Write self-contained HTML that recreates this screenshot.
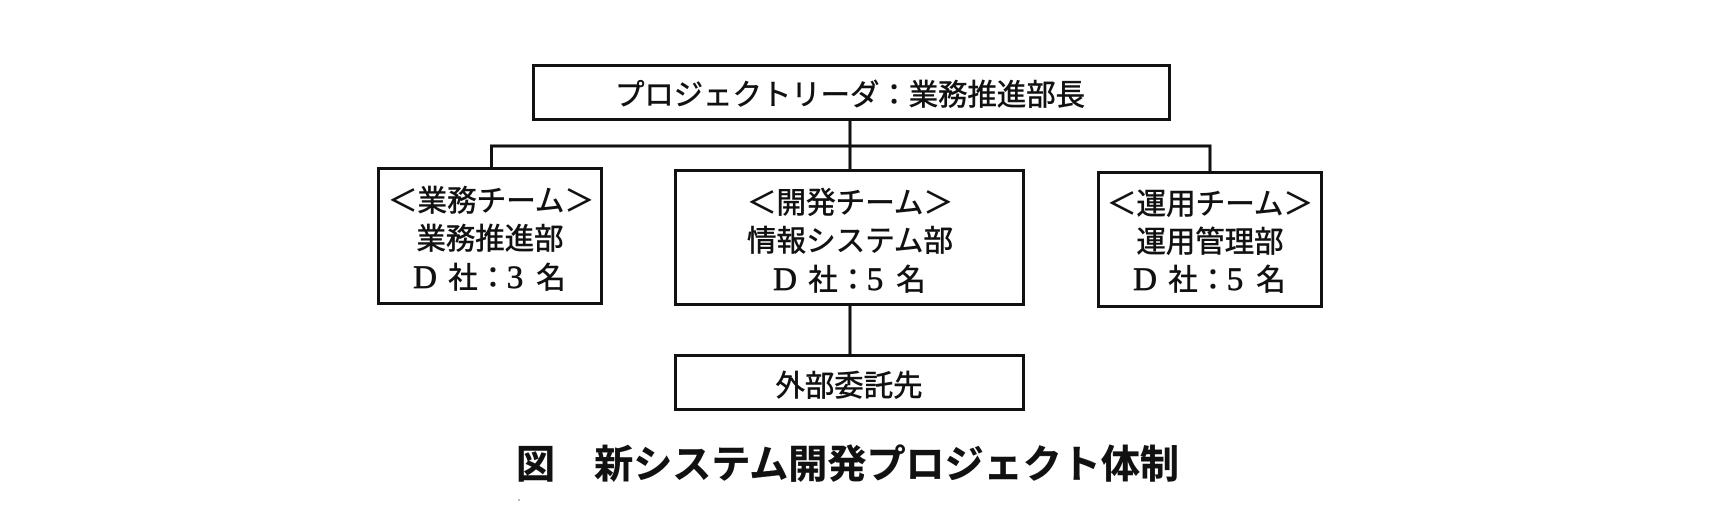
<!DOCTYPE html>
<html>
<head>
<meta charset="utf-8">
<style>
  html, body { margin: 0; padding: 0; background: #fff; }
  body { width: 1710px; height: 526px; overflow: hidden; }
  svg { display: block; }
  .t { font-family: "Liberation Sans", "Noto Sans CJK JP", sans-serif; font-size: 29.4px; fill: #111; stroke: #111; stroke-width: 0.6px; }
  .s { font-family: "Liberation Serif", "Noto Serif CJK SC", serif; font-size: 33px; fill: #111; stroke: #111; stroke-width: 0.7px; }
  .cap { font-family: "Liberation Sans", "Noto Sans CJK JP", sans-serif; font-size: 39px; font-weight: bold; fill: #111; stroke: #111; stroke-width: 0.4px; }
</style>
</head>
<body>
<svg width="1710" height="526" viewBox="0 0 1710 526" xmlns="http://www.w3.org/2000/svg">
  <g fill="none" stroke="#111" stroke-width="3">
    <!-- boxes -->
    <rect x="533.5" y="65.5" width="636" height="54"/>
    <rect x="378.5" y="168.5" width="223" height="135"/>
    <rect x="675.5" y="170.5" width="348" height="134"/>
    <rect x="1098.5" y="172.5" width="223" height="134"/>
    <rect x="675.5" y="355.5" width="348" height="54"/>
    <!-- connectors -->
    <line x1="490" y1="146" x2="1211.5" y2="146"/>
    <line x1="491.5" y1="146" x2="491.5" y2="168"/>
    <line x1="1210" y1="146" x2="1210" y2="172"/>
    <line x1="850" y1="120" x2="850" y2="170"/>
    <line x1="850" y1="305" x2="850" y2="356"/>
  </g>

  <!-- top box -->
  <text class="t" x="850" y="105" text-anchor="middle" textLength="470" lengthAdjust="spacingAndGlyphs">プロジェクトリーダ：業務推進部長</text>

  <!-- left box -->
  <text class="t" x="491" y="211" text-anchor="middle" textLength="206" lengthAdjust="spacingAndGlyphs">＜業務チーム＞</text>
  <text class="t" x="490" y="249" text-anchor="middle" textLength="147" lengthAdjust="spacingAndGlyphs">業務推進部</text>
  <text class="s" x="425" y="288" text-anchor="middle">D</text>
  <text class="t" x="463" y="288" text-anchor="middle">社</text>
  <text class="t" x="493" y="288" text-anchor="middle">：</text>
  <text class="s" x="515" y="288" text-anchor="middle">3</text>
  <text class="t" x="551" y="288" text-anchor="middle">名</text>

  <!-- center box -->
  <text class="t" x="850" y="213" text-anchor="middle" textLength="206" lengthAdjust="spacingAndGlyphs">＜開発チーム＞</text>
  <text class="t" x="850" y="251" text-anchor="middle" textLength="206" lengthAdjust="spacingAndGlyphs">情報システム部</text>
  <text class="s" x="785" y="290" text-anchor="middle">D</text>
  <text class="t" x="823" y="290" text-anchor="middle">社</text>
  <text class="t" x="853" y="290" text-anchor="middle">：</text>
  <text class="s" x="875" y="290" text-anchor="middle">5</text>
  <text class="t" x="911" y="290" text-anchor="middle">名</text>

  <!-- right box -->
  <text class="t" x="1210" y="214" text-anchor="middle" textLength="206" lengthAdjust="spacingAndGlyphs">＜運用チーム＞</text>
  <text class="t" x="1210" y="252" text-anchor="middle" textLength="147" lengthAdjust="spacingAndGlyphs">運用管理部</text>
  <text class="s" x="1145" y="290" text-anchor="middle">D</text>
  <text class="t" x="1183" y="290" text-anchor="middle">社</text>
  <text class="t" x="1213" y="290" text-anchor="middle">：</text>
  <text class="s" x="1235" y="290" text-anchor="middle">5</text>
  <text class="t" x="1271" y="290" text-anchor="middle">名</text>

  <!-- bottom box -->
  <text class="t" x="849" y="396" text-anchor="middle" textLength="147" lengthAdjust="spacingAndGlyphs">外部委託先</text>

  <!-- caption -->
  <text class="cap" x="516" y="478" textLength="663" lengthAdjust="spacingAndGlyphs">図　新システム開発プロジェクト体制</text>

  <!-- scan speck -->
  <rect x="518" y="499" width="2" height="2" fill="#bbb"/>
</svg>
</body>
</html>
